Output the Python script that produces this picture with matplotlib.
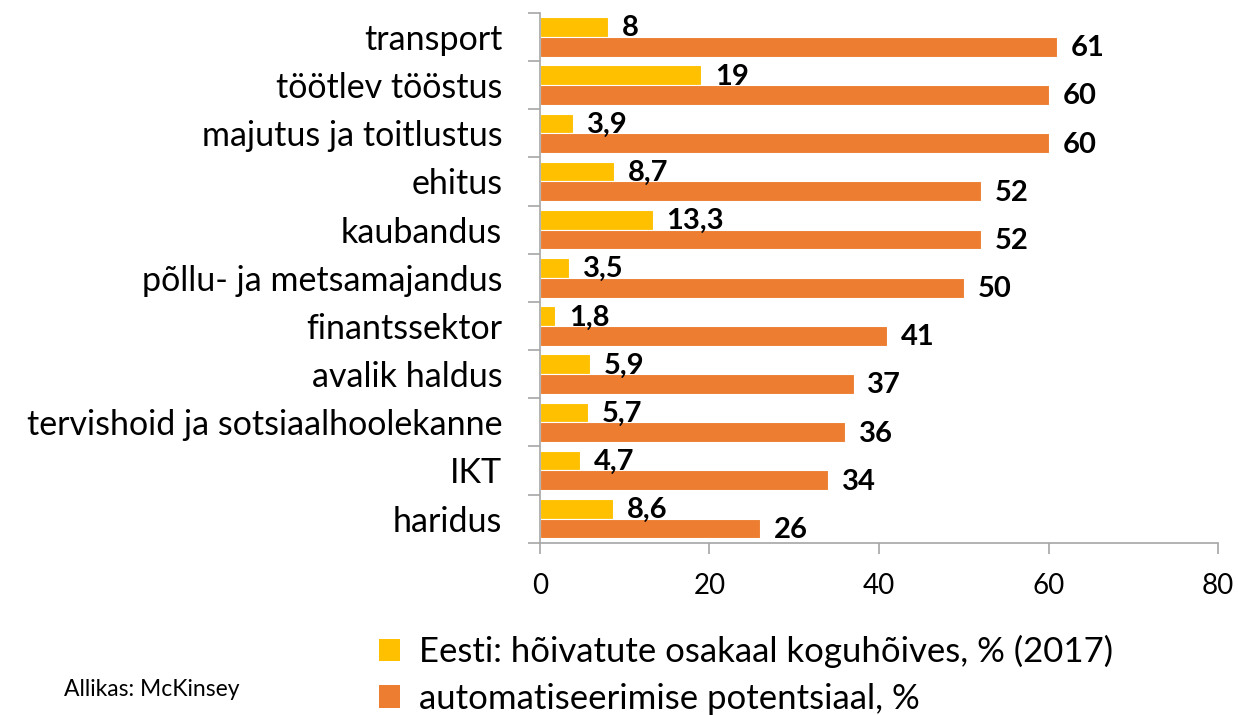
import numpy as np
import matplotlib
matplotlib.use("Agg")
import matplotlib.pyplot as plt
from matplotlib.patches import Patch

plt.rcParams['font.family'] = ['Lato', 'DejaVu Sans']

# data, top to bottom as in the picture
categories = ["transport", "töötlev tööstus", "majutus ja toitlustus", "ehitus",
              "kaubandus", "põllu- ja metsamajandus", "finantssektor",
              "avalik haldus", "tervishoid ja sotsiaalhoolekanne", "IKT", "haridus"]
employment = [8, 19, 3.9, 8.7, 13.3, 3.5, 1.8, 5.9, 5.7, 4.7, 8.6]
automation = [61, 60, 60, 52, 52, 50, 41, 37, 36, 34, 26]
xticks = [0, 20, 40, 60, 80]

label_emp = "Eesti: hõivatute osakaal koguhõives, % (2017)"
label_aut = "automatiseerimise potentsiaal, %"

c_yellow = "#FFC000"
c_orange = "#ED7D31"


def fmt(v):
    s = ("%g" % v)
    return s.replace(".", ",")


fig = plt.figure(figsize=(12.38, 7.15), dpi=100)
ax = fig.add_axes([0.436, 0.241, 0.548, 0.741])

y = np.arange(len(categories))
h = 0.41
b1 = ax.barh(y - h / 2, employment, height=h, color=c_yellow, edgecolor="white", linewidth=0.8)
b2 = ax.barh(y + h / 2, automation, height=h, color=c_orange, edgecolor="white", linewidth=0.8)

for bars, vals in ((b1, employment), (b2, automation)):
    for rect, v in zip(bars, vals):
        ax.annotate(fmt(v), (rect.get_width(), rect.get_y() + rect.get_height() / 2),
                    xytext=(10, -1), textcoords="offset points", va="center", ha="left",
                    fontsize=21, fontweight="bold", color="black")

ax.set_ylim(len(categories) - 0.5, -0.5)
ax.set_xlim(0, 80)
ax.set_xticks(xticks)
ax.set_xticklabels([str(t) for t in xticks], fontsize=20)
ax.set_yticks(y)
ax.set_yticklabels(categories, fontsize=24.5)
ax.tick_params(axis="y", length=0, pad=27)
ax.set_yticks(np.arange(len(categories) + 1) - 0.5, minor=True)
ax.tick_params(axis="y", which="minor", length=9, color="#A6A6A6", width=1.2)
ax.tick_params(axis="x", length=8, color="#A6A6A6", width=1.2, pad=14)

for s in ("top", "right"):
    ax.spines[s].set_visible(False)
for s in ("left", "bottom"):
    ax.spines[s].set_color("#A6A6A6")
    ax.spines[s].set_linewidth(1.2)

handles = [Patch(facecolor=c_yellow, label=label_emp),
           Patch(facecolor=c_orange, label=label_aut)]
fig.legend(handles=handles, loc="upper left", bbox_to_anchor=(0.306, 0.112),
           frameon=False, fontsize=25, handlelength=0.62, handleheight=0.62,
           handletextpad=0.55, labelspacing=0.42, borderaxespad=0, borderpad=0)

fig.text(0.052, 0.035, "Allikas: McKinsey", fontsize=16.5, va="center", ha="left")

fig.savefig("out.png", dpi=100)
